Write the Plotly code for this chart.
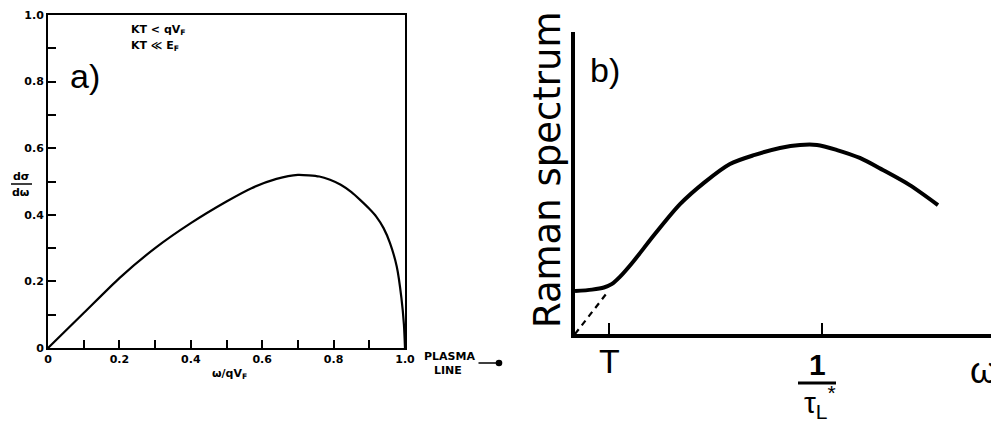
import plotly.graph_objects as go

W, H = 991, 428

# panel a) - cross section vs omega / q v_F
omega_a = [0, 0.1, 0.2, 0.3, 0.4, 0.5, 0.57, 0.64, 0.7, 0.76, 0.79, 0.82, 0.85,
           0.875, 0.9, 0.92, 0.94, 0.958, 0.977, 0.99, 0.997, 1.0]
dsigma_a = [0, 0.105, 0.21, 0.30, 0.375, 0.44, 0.48, 0.508, 0.52, 0.515, 0.505,
            0.49, 0.468, 0.444, 0.418, 0.394, 0.36, 0.315, 0.244, 0.15, 0.07, 0]
ticks_a = [0, 0.2, 0.4, 0.6, 0.8, 1.0]
labels_a = ["0", "0.2", "0.4", "0.6", "0.8", "1.0"]

# panel b) - schematic Raman spectrum (arbitrary units)
omega_b = [0, 0.5, 0.85, 1.09, 1.32, 1.68, 2.35, 3.09, 3.82, 4.56, 5.29, 6.03,
           6.62, 7.12, 7.71, 8.38, 9.06, 9.85, 10.68]
raman_b = [1.42, 1.47, 1.54, 1.66, 1.89, 2.35, 3.31, 4.30, 5.03, 5.63, 5.93,
           6.16, 6.26, 6.26, 6.09, 5.83, 5.43, 4.93, 4.27]
dash_x = [0, 0.94]
dash_y = [0, 1.36]
T_pos = 1.0
tau_pos = 7.26


def px(x):
    return x / W


def py(y):
    return 1 - y / H


fig = go.Figure()
fig.add_trace(go.Scatter(x=omega_a, y=dsigma_a, mode="lines", xaxis="x", yaxis="y",
                         line=dict(color="black", width=2.2, shape="spline", smoothing=0.6)))
fig.add_trace(go.Scatter(x=omega_b, y=raman_b, mode="lines", xaxis="x2", yaxis="y2",
                         line=dict(color="black", width=4, shape="spline", smoothing=0.8)))
fig.add_trace(go.Scatter(x=dash_x, y=dash_y, mode="lines", xaxis="x2", yaxis="y2",
                         line=dict(color="black", width=2.2, dash="6px,5px")))

small = dict(family="DejaVu Sans, sans-serif", size=11, color="black", weight="bold")
big = dict(family="Liberation Sans, Arial, sans-serif", size=34, color="black")

ann = []


def text(x, y, s, font, **kw):
    opts = dict(xanchor="center", yanchor="middle")
    opts.update(kw)
    ann.append(dict(x=px(x), y=py(y), xref="paper", yref="paper", text=s,
                    showarrow=False, font=font, **opts))


# panel a texts
text(158, 30, "KT &lt; qV<sub>F</sub>", small)
text(155, 46, "KT ≪ E<sub>F</sub>", small)
text(85, 76, "a)", big)
text(21, 176, "dσ", small)
text(21, 192, "dω", small)
text(229, 374, "ω/qV<sub>F</sub>", small)
text(449, 356, "PLASMA", small)
text(448, 370, "LINE", small)
ann.append(dict(x=px(499), y=py(363), xref="paper", yref="paper", text="",
                showarrow=True, ax=-22, ay=0, arrowhead=6, arrowsize=1.1,
                arrowwidth=1.5, arrowcolor="black"))

# panel b texts
text(605, 70, "b)", big)
text(547, 170, "Raman spectrum", dict(big, family="DejaVu Sans, sans-serif", size=37),
     textangle=-90)
text(609, 361, "T", dict(big, size=34))
text(817, 364, "1", dict(big, size=30, weight="bold"))
text(820, 402, "τ<sub>L</sub><sup>*</sup>", dict(big, size=30))
text(968, 370, "ω", dict(big, size=36), xanchor="left")

shapes = [
    dict(type="line", xref="paper", yref="paper", x0=px(11), x1=px(32),
         y0=py(184), y1=py(184), line=dict(color="black", width=1.5)),
    dict(type="line", xref="paper", yref="paper", x0=px(798), x1=px(836),
         y0=py(383), y1=py(383), line=dict(color="black", width=3)),
]

axis_a = dict(range=[0, 1.0], showgrid=False, zeroline=False, automargin=False,
              showline=True, linecolor="black", linewidth=2, mirror=True,
              ticks="inside", ticklen=8, tickwidth=1.5, tickcolor="black",
              tickvals=ticks_a, ticktext=labels_a, tickfont=small,
              minor=dict(ticks="inside", dtick=0.1, ticklen=8, tickwidth=1.5,
                         tickcolor="black", showgrid=False))

fig.update_layout(
    width=W,
    height=H,
    margin=dict(l=0, r=0, t=0, b=0, pad=0),
    showlegend=False,
    plot_bgcolor="white",
    paper_bgcolor="white",
    annotations=ann,
    shapes=shapes,
    xaxis=dict(axis_a, domain=[px(48), px(405)]),
    yaxis=dict(axis_a, domain=[py(348), py(15)]),
    xaxis2=dict(domain=[px(575), 1.0], range=[0, 12.24], anchor="y2", showgrid=False,
                zeroline=False, showline=True, linecolor="black", linewidth=3.5,
                automargin=False, ticks="inside", ticklen=11, tickwidth=2,
                tickcolor="black", tickvals=[T_pos, tau_pos], showticklabels=False),
    yaxis2=dict(domain=[py(334), py(32)], range=[0, 10], anchor="x2", showgrid=False,
                zeroline=False, showline=True, linecolor="black", linewidth=3.5,
                automargin=False, showticklabels=False, ticks=""),
)

# the browser's default 8px body margin would shift the whole figure
fig.write_html("out.html", config={"displayModeBar": False},
               post_script="document.body.style.margin = '0';")
